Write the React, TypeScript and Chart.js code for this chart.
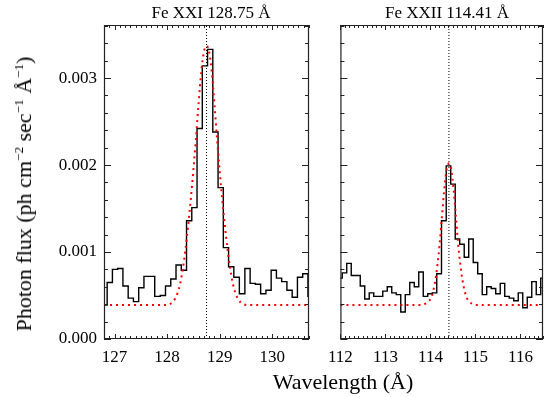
import React, { useEffect, useRef } from "react";
import { Chart, registerables } from "chart.js";

Chart.register(...registerables);

const SERIF = "'Liberation Serif', serif";
Chart.defaults.font.family = SERIF;
Chart.defaults.color = "#000";

// ---- axis ranges / reference lines ----
const leftRange = [126.8, 130.7];
const rightRange = [112.0, 116.5];
const fluxRange = [0, 0.00361];
const leftLine = 128.75;
const rightLine = 114.41;

// ---- Fe XXI 128.75 Å : observed spectrum (bin centres, flux) ----
const leftWave = [
  126.81, 126.91, 127.01, 127.11, 127.21, 127.31, 127.41, 127.51, 127.61, 127.71,
  127.82, 127.92, 128.02, 128.12, 128.22, 128.32, 128.42, 128.52, 128.62, 128.72,
  128.82, 128.92, 129.02, 129.12, 129.22, 129.32, 129.43, 129.53, 129.63, 129.73,
  129.83, 129.93, 130.03, 130.13, 130.23, 130.33, 130.43, 130.53, 130.63, 130.73,
];
const leftFlux = [
  0.00039, 0.00065, 0.0008, 0.00081, 0.00061, 0.00047, 0.00043, 0.00059, 0.00072, 0.00072,
  0.00049, 0.0005, 0.00061, 0.00069, 0.00085, 0.00079, 0.00136, 0.00151, 0.00242, 0.00314,
  0.00333, 0.00238, 0.00174, 0.00105, 0.00083, 0.00071, 0.00052, 0.00081, 0.00064, 0.00063,
  0.00052, 0.00056, 0.00079, 0.0007, 0.00066, 0.00056, 0.00048, 0.00071, 0.00075, 0.00049,
];
// fitted profile
const leftFitWave = [
  126.8, 127.95, 128.05, 128.1, 128.15, 128.2, 128.25, 128.3, 128.35, 128.4, 128.45,
  128.5, 128.55, 128.6, 128.65, 128.7, 128.75, 128.8, 128.85, 128.9, 128.95, 129.0,
  129.05, 129.1, 129.15, 129.2, 129.25, 129.3, 129.35, 129.4, 129.45, 129.55, 130.7,
];
const leftFitFlux = [
  0.00039, 0.00039, 0.0004, 0.00042, 0.00046, 0.00053, 0.00064, 0.00081, 0.00103, 0.0013, 0.0016,
  0.00194, 0.00231, 0.00271, 0.00307, 0.0033, 0.00337, 0.0033, 0.00307, 0.00271, 0.00231, 0.00194,
  0.0016, 0.0013, 0.00103, 0.00081, 0.00064, 0.00053, 0.00046, 0.00042, 0.0004, 0.00039, 0.00039,
];

// ---- Fe XXII 114.41 Å : observed spectrum ----
const rightWave = [
  111.99, 112.09, 112.19, 112.29, 112.39, 112.49, 112.59, 112.69, 112.79, 112.89,
  112.99, 113.09, 113.19, 113.29, 113.39, 113.49, 113.59, 113.69, 113.79, 113.89,
  113.99, 114.09, 114.19, 114.3, 114.4, 114.5, 114.6, 114.7, 114.8, 114.9,
  115.0, 115.1, 115.2, 115.3, 115.4, 115.5, 115.6, 115.7, 115.8, 115.9,
  116.0, 116.1, 116.2, 116.3, 116.4, 116.5,
];
const rightFlux = [
  0.0007, 0.00076, 0.00087, 0.00073, 0.00073, 0.00061, 0.00046, 0.00053, 0.00049, 0.00049,
  0.00055, 0.0006, 0.00053, 0.00051, 0.00031, 0.00051, 0.00065, 0.0006, 0.00077, 0.00049,
  0.00052, 0.00053, 0.00075, 0.00136, 0.00199, 0.00178, 0.00115, 0.00109, 0.00094, 0.00115,
  0.00088, 0.00075, 0.00051, 0.0006, 0.00058, 0.00052, 0.00064, 0.00049, 0.00047, 0.00044,
  0.00053, 0.00036, 0.00048, 0.00066, 0.00051, 0.0007,
];
const rightFitWave = [
  112.0, 113.8, 113.9, 113.95, 114.0, 114.05, 114.1, 114.15, 114.2, 114.25, 114.3, 114.35,
  114.41, 114.46, 114.51, 114.56, 114.61, 114.66, 114.71, 114.76, 114.81, 114.86, 114.91,
  115.01, 116.5,
];
const rightFitFlux = [
  0.00039, 0.00039, 0.00041, 0.00043, 0.00046, 0.00053, 0.00065, 0.00083, 0.00107, 0.00138, 0.00168, 0.00192,
  0.00202, 0.00195, 0.00174, 0.00144, 0.00112, 0.00087, 0.00068, 0.00055, 0.00047, 0.00043, 0.00041,
  0.00039, 0.00039,
];

// histogram: one point at each bin's left edge + closing point
function histPoints(wave: number[], flux: number[]) {
  const pts: { x: number; y: number }[] = [];
  const n = wave.length;
  for (let i = 0; i < n; i++) {
    const prev = i > 0 ? wave[i - 1] : wave[0] - (wave[1] - wave[0]);
    pts.push({ x: (prev + wave[i]) / 2, y: flux[i] });
  }
  pts.push({ x: wave[n - 1] + (wave[n - 1] - wave[n - 2]) / 2, y: flux[n - 1] });
  return pts;
}

function zip(xs: number[], ys: number[]) {
  return xs.map((x, i) => ({ x, y: ys[i] }));
}

// frame + IDL-style inward ticks on all four sides
const framePlugin = {
  id: "frame",
  afterDatasetsDraw(chart: any, _args: any, opts: any) {
    const { ctx, chartArea, scales } = chart;
    const { left, right, top, bottom } = chartArea;
    const xs = scales.x;
    const ys = scales.y;
    ctx.save();
    ctx.strokeStyle = "#222";
    ctx.lineWidth = 1.2;
    ctx.beginPath();
    ctx.rect(left + 0.5, top + 0.5, right - left - 1, bottom - top - 1);
    ctx.stroke();
    ctx.lineWidth = 1;
    const majLen = 5;
    const minLen = 3;
    const isMajor = (v: number, major: number) => Math.abs(v / major - Math.round(v / major)) < 1e-6;
    ctx.beginPath();
    for (let i = Math.ceil(xs.min / opts.xMinor - 1e-6); i * opts.xMinor <= xs.max + 1e-9; i++) {
      const v = i * opts.xMinor;
      const px = Math.round(xs.getPixelForValue(v)) + 0.5;
      const len = isMajor(v, opts.xMajor) ? majLen : minLen;
      ctx.moveTo(px, bottom);
      ctx.lineTo(px, bottom - len);
      ctx.moveTo(px, top);
      ctx.lineTo(px, top + len);
    }
    for (let i = Math.ceil(ys.min / opts.yMinor - 1e-6); i * opts.yMinor <= ys.max + 1e-12; i++) {
      const v = i * opts.yMinor;
      const py = Math.round(ys.getPixelForValue(v)) + 0.5;
      const len = isMajor(v, opts.yMajor) ? majLen + 2 : minLen + 1;
      ctx.moveTo(left, py);
      ctx.lineTo(left + len, py);
      ctx.moveTo(right, py);
      ctx.lineTo(right - len, py);
    }
    ctx.stroke();
    ctx.restore();
  },
};

function makeConfig(
  wave: number[],
  flux: number[],
  fitWave: number[],
  fitFlux: number[],
  xRange: number[],
  center: number,
  yWidth: number,
  padding: any
): any {
  return {
    type: "line",
    data: {
      datasets: [
        {
          data: zip(fitWave, fitFlux),
          borderColor: "#ff0000",
          borderWidth: 2,
          borderDash: [2, 4],
          pointRadius: 0,
          cubicInterpolationMode: "monotone",
          fill: false,
          order: 0,
        },
        {
          data: histPoints(wave, flux),
          borderColor: "#000",
          borderWidth: 1.4,
          pointRadius: 0,
          stepped: true,
          fill: false,
          order: 1,
        },
        {
          data: [
            { x: center, y: fluxRange[0] },
            { x: center, y: fluxRange[1] },
          ],
          borderColor: "#000",
          borderWidth: 1,
          borderDash: [1, 2],
          pointRadius: 0,
          fill: false,
          order: 2,
        },
      ],
    },
    options: {
      responsive: false,
      animation: false,
      devicePixelRatio: 1,
      layout: { padding },
      plugins: {
        legend: { display: false },
        tooltip: { enabled: false },
        frame: { xMinor: 0.1, xMajor: 1, yMinor: 0.0002, yMajor: 0.001 },
      },
      scales: {
        x: {
          type: "linear",
          min: xRange[0],
          max: xRange[1],
          grid: { display: false, drawTicks: false },
          border: { display: false },
          ticks: {
            stepSize: 1,
            includeBounds: false,
            padding: 8,
            maxRotation: 0,
            autoSkip: false,
            color: "#000",
            font: { family: SERIF, size: 17 },
            callback: (v: any) => String(Math.round(Number(v))),
          },
          afterFit: (s: any) => {
            s.height = 58;
          },
        },
        y: {
          type: "linear",
          display: yWidth > 0,
          min: fluxRange[0],
          max: fluxRange[1],
          grid: { display: false, drawTicks: false },
          border: { display: false },
          ticks: {
            stepSize: 0.001,
            includeBounds: false,
            padding: 7,
            color: "#000",
            font: { family: SERIF, size: 17 },
            callback: (v: any) => Number(v).toFixed(3),
          },
          afterFit: (s: any) => {
            s.width = yWidth;
          },
        },
      },
    },
    plugins: [framePlugin],
  };
}

export default function App() {
  const leftRef = useRef<HTMLCanvasElement>(null);
  const rightRef = useRef<HTMLCanvasElement>(null);

  useEffect(() => {
    const c1 = new Chart(
      leftRef.current as HTMLCanvasElement,
      makeConfig(leftWave, leftFlux, leftFitWave, leftFitFlux, leftRange, leftLine, 104, {
        top: 25,
        right: 11,
        left: 0,
        bottom: 0,
      })
    );
    const c2 = new Chart(
      rightRef.current as HTMLCanvasElement,
      makeConfig(rightWave, rightFlux, rightFitWave, rightFitFlux, rightRange, rightLine, 0, {
        top: 25,
        right: 2,
        left: 17,
        bottom: 0,
      })
    );
    return () => {
      c1.destroy();
      c2.destroy();
    };
  }, []);

  const text: React.CSSProperties = {
    position: "absolute",
    fontFamily: SERIF,
    color: "#000",
    whiteSpace: "nowrap",
    lineHeight: 1,
  };
  const sup: React.CSSProperties = { fontSize: "0.6em", position: "relative", top: "-0.6em" };

  return (
    <div
      style={{
        position: "fixed",
        left: 0,
        top: 0,
        width: 545,
        height: 397,
        background: "#fff",
        overflow: "hidden",
      }}
    >
      <canvas
        ref={leftRef}
        width={320}
        height={397}
        style={{ position: "absolute", left: 0, top: 0, width: 320, height: 397 }}
      />
      <canvas
        ref={rightRef}
        width={225}
        height={397}
        style={{ position: "absolute", left: 320, top: 0, width: 225, height: 397 }}
      />
      <div style={{ ...text, left: 211, top: 12, fontSize: 17, transform: "translate(-50%, -50%)" }}>
        Fe XXI 128.75 Å
      </div>
      <div style={{ ...text, left: 447, top: 12, fontSize: 17, transform: "translate(-50%, -50%)" }}>
        Fe XXII 114.41 Å
      </div>
      <div style={{ ...text, left: 343, top: 382, fontSize: 22, transform: "translate(-50%, -50%)" }}>
        Wavelength (Å)
      </div>
      <div
        style={{
          ...text,
          left: 24,
          top: 194,
          fontSize: 22,
          transform: "translate(-50%, -50%) rotate(-90deg)",
        }}
      >
        Photon flux (ph cm<span style={sup}>−2</span> sec<span style={sup}>−1</span> Å
        <span style={sup}>−1</span>)
      </div>
    </div>
  );
}
